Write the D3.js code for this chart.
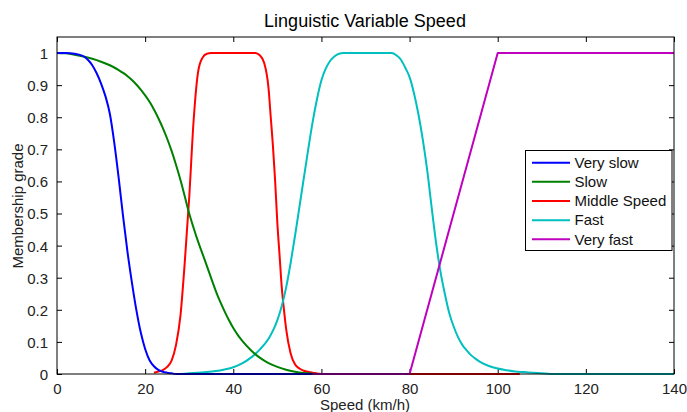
<!DOCTYPE html>
<html><head><meta charset="utf-8">
<script src="https://cdn.jsdelivr.net/npm/d3@7"></script>
<style>
html,body{margin:0;padding:0;background:#fff;}
svg{display:block;font-family:"Liberation Sans",Arial,sans-serif;}
</style></head>
<body><svg id="chart" width="687" height="412"></svg>
<script>
// ---- data ----
const xTicks = [0, 20, 40, 60, 80, 100, 120, 140];
const yTicks = [0, 0.1, 0.2, 0.3, 0.4, 0.5, 0.6, 0.7, 0.8, 0.9, 1];
const seriesNames = ["Very slow", "Slow", "Middle Speed", "Fast", "Very fast"];
const seriesColors = ["#0000ff", "#008000", "#ff0000", "#00bfbf", "#bf00bf"];

const verySlow = [[0,1],[2,1],[4,0.998],[5,0.995],[6,0.99],[7,0.979],[8,0.962],[9,0.937],[10,0.905],[11,0.865],[12,0.81],[13,0.72],[14,0.61],[15,0.49],[16,0.38],[17,0.285],[18,0.2],[19,0.13],[20,0.078],[21,0.043],[22,0.024],[23,0.013],[24,0.007],[25,0.004],[26,0.002],[27,0],[58,0]];
const slow = [[0,1],[2,0.999],[4,0.995],[6,0.989],[8,0.982],[10,0.973],[12,0.962],[14,0.947],[15,0.938],[16,0.928],[17,0.916],[18,0.902],[19,0.886],[20,0.868],[21,0.848],[22,0.824],[23,0.797],[24,0.767],[25,0.733],[26,0.695],[27,0.652],[28,0.605],[29,0.553],[30,0.5],[31,0.455],[32,0.413],[33,0.375],[34,0.337],[35,0.298],[36,0.26],[37,0.226],[38,0.196],[39,0.168],[40,0.143],[41,0.122],[42,0.104],[44,0.074],[46,0.051],[48,0.034],[50,0.022],[52,0.013],[54,0.007],[56,0.003],[58,0.001],[60,0]];
const middle = [[22,0.004],[23,0.008],[24,0.012],[25,0.022],[26,0.042],[27,0.09],[28,0.18],[29,0.35],[30,0.55],[31,0.79],[32,0.94],[33,0.985],[34,0.998],[35,1],[45,1],[46,0.993],[47,0.97],[48,0.89],[48.5,0.8],[49,0.71],[49.5,0.6],[50,0.47],[50.5,0.37],[51,0.27],[51.5,0.2],[52,0.14],[53,0.065],[54,0.03],[55,0.017],[56,0.01],[58,0.004],[60,0],[105,0]];
const fast = [[28,0],[30,0.002],[32,0.004],[34,0.006],[36,0.009],[38,0.014],[40,0.021],[42,0.033],[44,0.051],[46,0.076],[48,0.11],[49,0.135],[50,0.168],[51,0.212],[52,0.27],[53,0.345],[54,0.43],[55,0.52],[56,0.61],[57,0.7],[58,0.785],[59,0.857],[60,0.915],[61,0.952],[62,0.976],[63,0.99],[64,0.998],[65,1],[76,1],[77,0.993],[78,0.98],[79,0.955],[80,0.925],[81,0.875],[82,0.81],[83,0.73],[84,0.635],[85,0.52],[86,0.41],[87,0.32],[88,0.25],[89,0.19],[90,0.148],[91,0.115],[92,0.09],[93,0.073],[94,0.058],[95,0.047],[96,0.038],[98,0.025],[100,0.017],[102,0.012],[104,0.008],[106,0.006],[108,0.004],[110,0.002],[112,0],[140,0]];
const veryFast = [[58,0],[80,0],[100,1],[140,1]];

const allSeries = [verySlow, slow, middle, fast, veryFast];
const drawOrder = [2, 3, 1, 0, 4];

// ---- layout ----
const svg = d3.select("#chart");
const x = d3.scaleLinear().domain([0, 140]).range([57, 674]);
const y = d3.scaleLinear().domain([0, 1.05]).range([374, 37]);

const axisColor = "#000";
const tickFont = "15px";

// ticks (inside, on all four sides)
const gL = svg.append("g").attr("transform", `translate(${x(0)},0)`)
  .call(d3.axisLeft(y).tickValues(yTicks).tickSizeInner(-5).tickSizeOuter(0).tickPadding(9).tickFormat(d3.format("~g")));
const gB = svg.append("g").attr("transform", `translate(0,${y(0)})`)
  .call(d3.axisBottom(x).tickValues(xTicks).tickSizeInner(-5).tickSizeOuter(0).tickPadding(9).tickFormat(d3.format("~g")));
const gT = svg.append("g").attr("transform", `translate(0,${y.range()[1]})`)
  .call(d3.axisTop(x).tickValues(xTicks).tickSizeInner(-5).tickSizeOuter(0).tickFormat(""));
const gR = svg.append("g").attr("transform", `translate(${x(140)},0)`)
  .call(d3.axisRight(y).tickValues(yTicks).tickSizeInner(-5).tickSizeOuter(0).tickFormat(""));
[gL, gB, gT, gR].forEach(g => {
  g.select(".domain").remove();
  g.selectAll(".tick line").attr("stroke", axisColor);
  g.selectAll(".tick text").attr("fill", "#222").style("font-size", tickFont)
    .style("font-family", '"Liberation Sans",Arial,sans-serif');
});
gL.selectAll(".tick text").attr("dy", "0.36em");

// curves
const smooth = d3.line().x(d => x(d[0])).y(d => y(d[1])).curve(d3.curveMonotoneX);
const straight = d3.line().x(d => x(d[0])).y(d => y(d[1])).curve(d3.curveLinear);
const plot = svg.append("g");
drawOrder.forEach(i => {
  plot.append("path").datum(allSeries[i])
    .attr("d", i === 4 ? straight : smooth).attr("fill", "none")
    .attr("stroke", seriesColors[i]).attr("stroke-width", 2)
    .attr("stroke-linejoin", "round");
});

// axes box
svg.append("rect").attr("x", x(0)).attr("y", y.range()[1])
  .attr("width", x(140) - x(0)).attr("height", y(0) - y.range()[1])
  .attr("fill", "none").attr("stroke", axisColor).attr("stroke-width", 1);

// title and labels
svg.append("text").attr("x", 365).attr("y", 27).attr("text-anchor", "middle")
  .style("font-size", "18px").attr("fill", "#000").text("Linguistic Variable Speed");
svg.append("text").attr("x", 365).attr("y", 410).attr("text-anchor", "middle")
  .style("font-size", "15px").attr("fill", "#222").text("Speed (km/h)");
svg.append("text").attr("transform", "translate(23,206) rotate(-90)").attr("text-anchor", "middle")
  .style("font-size", "15px").attr("fill", "#222").text("Membership grade");

// legend
const lg = svg.append("g");
lg.append("rect").attr("x", 525.5).attr("y", 150.5).attr("width", 146.5).attr("height", 100)
  .attr("fill", "#fff").attr("stroke", "#000").attr("stroke-width", 1);
seriesNames.forEach((name, i) => {
  const yy = 162.7 + i * 19.15;
  lg.append("line").attr("x1", 532).attr("x2", 570).attr("y1", yy).attr("y2", yy)
    .attr("stroke", seriesColors[i]).attr("stroke-width", 2);
  lg.append("text").attr("x", 574.5).attr("y", yy + 5.3)
    .style("font-size", "15px").attr("fill", "#111").text(name);
});
</script>
</body></html>
